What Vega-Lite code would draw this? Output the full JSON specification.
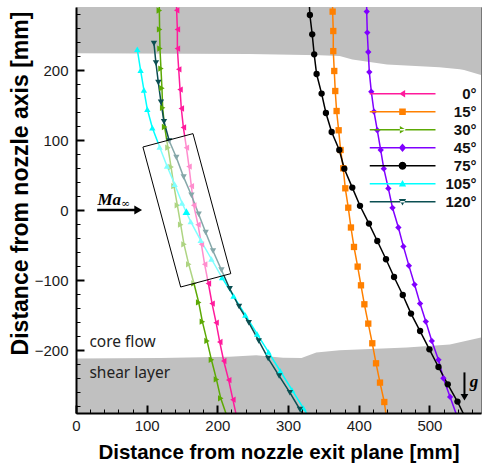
{
  "$schema": "https://vega.github.io/schema/vega-lite/v6.json",
  "width": 405,
  "height": 406,
  "autosize": {"type": "none"},
  "padding": {"left": 76, "top": 7, "right": 1, "bottom": 57},
  "config": {
    "font": "Liberation Sans",
    "view": {"stroke": "#777", "strokeWidth": 1}
  },
  "resolve": {
    "axis": {"x": "independent", "y": "independent"},
    "scale": {"shape": "independent", "color": "independent", "fill": "independent", "stroke": "independent", "size": "independent"}
  },
  "datasets": {
    "shadeTop": [
      {"x": 0, "y": 224}, {"x": 245, "y": 223}, {"x": 345, "y": 221}, {"x": 373, "y": 220},
      {"x": 391, "y": 215}, {"x": 440, "y": 208}, {"x": 514, "y": 204}, {"x": 543, "y": 201},
      {"x": 549, "y": 200}, {"x": 573, "y": 193}
    ],
    "shadeBottom": [
      {"x": 0, "y": -212}, {"x": 120, "y": -211.5}, {"x": 217, "y": -209.5}, {"x": 255, "y": -207.6},
      {"x": 293, "y": -211}, {"x": 319, "y": -211.4}, {"x": 340, "y": -203.7}, {"x": 373, "y": -200.5},
      {"x": 468, "y": -196.6}, {"x": 529, "y": -192}, {"x": 573, "y": -182}
    ],
    "series": [
      {"s": "0°", "i": 0, "x": 141.5, "y": 313}, {"s": "0°", "i": 1, "x": 142.4, "y": 285.3},
      {"s": "0°", "i": 2, "x": 143.4, "y": 258}, {"s": "0°", "i": 3, "x": 143.4, "y": 230.6},
      {"s": "0°", "i": 4, "x": 145.3, "y": 201}, {"s": "0°", "i": 5, "x": 147.2, "y": 172},
      {"s": "0°", "i": 6, "x": 149, "y": 145}, {"s": "0°", "i": 7, "x": 151.9, "y": 118},
      {"s": "0°", "i": 8, "x": 156.2, "y": 89}, {"s": "0°", "i": 9, "x": 159.9, "y": 62},
      {"s": "0°", "i": 10, "x": 163.2, "y": 34}, {"s": "0°", "i": 11, "x": 166.5, "y": 6.7},
      {"s": "0°", "i": 12, "x": 172.6, "y": -21}, {"s": "0°", "i": 13, "x": 177.4, "y": -49},
      {"s": "0°", "i": 14, "x": 182, "y": -77.6}, {"s": "0°", "i": 15, "x": 187.3, "y": -105},
      {"s": "0°", "i": 16, "x": 192.5, "y": -133.7}, {"s": "0°", "i": 17, "x": 198.2, "y": -160.9},
      {"s": "0°", "i": 18, "x": 203.4, "y": -188.6}, {"s": "0°", "i": 19, "x": 209, "y": -215.7},
      {"s": "0°", "i": 20, "x": 216, "y": -243}, {"s": "0°", "i": 21, "x": 222, "y": -271},
      {"s": "0°", "i": 22, "x": 228, "y": -299},

      {"s": "15°", "i": 0, "x": 362.8, "y": 311}, {"s": "15°", "i": 1, "x": 363.1, "y": 283.4},
      {"s": "15°", "i": 2, "x": 364, "y": 255.7}, {"s": "15°", "i": 3, "x": 364, "y": 227},
      {"s": "15°", "i": 4, "x": 365.4, "y": 198.6}, {"s": "15°", "i": 5, "x": 366.8, "y": 170},
      {"s": "15°", "i": 6, "x": 368.7, "y": 141.4}, {"s": "15°", "i": 7, "x": 371.6, "y": 113.9},
      {"s": "15°", "i": 8, "x": 374.4, "y": 85.7}, {"s": "15°", "i": 9, "x": 378.1, "y": 59.6},
      {"s": "15°", "i": 10, "x": 381, "y": 31}, {"s": "15°", "i": 11, "x": 385.2, "y": 3.3},
      {"s": "15°", "i": 12, "x": 389, "y": -25}, {"s": "15°", "i": 13, "x": 393.3, "y": -52.8},
      {"s": "15°", "i": 14, "x": 398.5, "y": -80.9}, {"s": "15°", "i": 15, "x": 403.2, "y": -107.6},
      {"s": "15°", "i": 16, "x": 408, "y": -134.7}, {"s": "15°", "i": 17, "x": 413.5, "y": -162.3},
      {"s": "15°", "i": 18, "x": 419.2, "y": -190.4}, {"s": "15°", "i": 19, "x": 424.5, "y": -219},
      {"s": "15°", "i": 20, "x": 430.1, "y": -246.6}, {"s": "15°", "i": 21, "x": 436.2, "y": -274.3},
      {"s": "15°", "i": 22, "x": 439.5, "y": -299},

      {"s": "30°", "i": 0, "x": 117.5, "y": 313}, {"s": "30°", "i": 1, "x": 117.9, "y": 285},
      {"s": "30°", "i": 2, "x": 118.3, "y": 258}, {"s": "30°", "i": 3, "x": 118.8, "y": 230.6},
      {"s": "30°", "i": 4, "x": 120.2, "y": 202}, {"s": "30°", "i": 5, "x": 121.6, "y": 174},
      {"s": "30°", "i": 6, "x": 122.6, "y": 146}, {"s": "30°", "i": 7, "x": 125.4, "y": 118.6},
      {"s": "30°", "i": 8, "x": 130.1, "y": 89}, {"s": "30°", "i": 9, "x": 134.5, "y": 61.4},
      {"s": "30°", "i": 10, "x": 138.6, "y": 34}, {"s": "30°", "i": 11, "x": 143.4, "y": 6.7},
      {"s": "30°", "i": 12, "x": 148.1, "y": -21}, {"s": "30°", "i": 13, "x": 152.8, "y": -49},
      {"s": "30°", "i": 14, "x": 159.5, "y": -77.6}, {"s": "30°", "i": 15, "x": 166.8, "y": -104.7},
      {"s": "30°", "i": 16, "x": 173.6, "y": -132}, {"s": "30°", "i": 17, "x": 178.8, "y": -159.5},
      {"s": "30°", "i": 18, "x": 185.4, "y": -187}, {"s": "30°", "i": 19, "x": 191.6, "y": -214},
      {"s": "30°", "i": 20, "x": 198.7, "y": -242}, {"s": "30°", "i": 21, "x": 204.8, "y": -269},
      {"s": "30°", "i": 22, "x": 215, "y": -299},

      {"s": "45°", "i": 0, "x": 411, "y": 311}, {"s": "45°", "i": 1, "x": 411.3, "y": 283.4},
      {"s": "45°", "i": 2, "x": 412.1, "y": 253.4}, {"s": "45°", "i": 3, "x": 413.5, "y": 225.7},
      {"s": "45°", "i": 4, "x": 415, "y": 197}, {"s": "45°", "i": 5, "x": 417.8, "y": 169},
      {"s": "45°", "i": 6, "x": 421.6, "y": 140.6}, {"s": "45°", "i": 7, "x": 426.3, "y": 113.9},
      {"s": "45°", "i": 8, "x": 431.1, "y": 85.7}, {"s": "45°", "i": 9, "x": 435.5, "y": 59.1},
      {"s": "45°", "i": 10, "x": 441.9, "y": 30.8}, {"s": "45°", "i": 11, "x": 447.8, "y": 3.1},
      {"s": "45°", "i": 12, "x": 456.1, "y": -25}, {"s": "45°", "i": 13, "x": 463.2, "y": -52},
      {"s": "45°", "i": 14, "x": 471, "y": -79.5}, {"s": "45°", "i": 15, "x": 479, "y": -106.5},
      {"s": "45°", "i": 16, "x": 486.8, "y": -133.7}, {"s": "45°", "i": 17, "x": 494.9, "y": -159.4},
      {"s": "45°", "i": 18, "x": 503.4, "y": -187}, {"s": "45°", "i": 19, "x": 512.8, "y": -214},
      {"s": "45°", "i": 20, "x": 519.8, "y": -240.4}, {"s": "45°", "i": 21, "x": 529.3, "y": -267},
      {"s": "45°", "i": 22, "x": 540.6, "y": -299},

      {"s": "75°", "i": 0, "x": 329.5, "y": 306}, {"s": "75°", "i": 1, "x": 330.9, "y": 278.6},
      {"s": "75°", "i": 2, "x": 334.2, "y": 251}, {"s": "75°", "i": 3, "x": 337, "y": 222.4},
      {"s": "75°", "i": 4, "x": 340.4, "y": 194.3}, {"s": "75°", "i": 5, "x": 347.5, "y": 166.3},
      {"s": "75°", "i": 6, "x": 353.6, "y": 138.6}, {"s": "75°", "i": 7, "x": 361.7, "y": 111.4},
      {"s": "75°", "i": 8, "x": 372.5, "y": 85.7}, {"s": "75°", "i": 9, "x": 379.6, "y": 59},
      {"s": "75°", "i": 10, "x": 390.9, "y": 32}, {"s": "75°", "i": 11, "x": 401.8, "y": 6},
      {"s": "75°", "i": 12, "x": 414.5, "y": -19.4}, {"s": "75°", "i": 13, "x": 426.3, "y": -44.3},
      {"s": "75°", "i": 14, "x": 438.6, "y": -70.4}, {"s": "75°", "i": 15, "x": 450, "y": -95.7},
      {"s": "75°", "i": 16, "x": 462.3, "y": -121.4}, {"s": "75°", "i": 17, "x": 474, "y": -148},
      {"s": "75°", "i": 18, "x": 486.8, "y": -172.9}, {"s": "75°", "i": 19, "x": 500, "y": -199},
      {"s": "75°", "i": 20, "x": 512.8, "y": -224.3}, {"s": "75°", "i": 21, "x": 526, "y": -249},
      {"s": "75°", "i": 22, "x": 539.7, "y": -273.7}, {"s": "75°", "i": 23, "x": 552, "y": -299},

      {"s": "105°", "i": 0, "x": 86.7, "y": 229.6}, {"s": "105°", "i": 1, "x": 91.4, "y": 199.6},
      {"s": "105°", "i": 2, "x": 96.1, "y": 171.4}, {"s": "105°", "i": 3, "x": 100.9, "y": 143.9},
      {"s": "105°", "i": 4, "x": 108, "y": 117.5}, {"s": "105°", "i": 5, "x": 118.3, "y": 90},
      {"s": "105°", "i": 6, "x": 128.7, "y": 62.9}, {"s": "105°", "i": 7, "x": 139.6, "y": 36.7},
      {"s": "105°", "i": 8, "x": 150, "y": 10}, {"s": "105°", "i": 9, "x": 162.3, "y": -16.6},
      {"s": "105°", "i": 10, "x": 176.4, "y": -43.3}, {"s": "105°", "i": 11, "x": 191.6, "y": -70},
      {"s": "105°", "i": 12, "x": 206.6, "y": -96.6}, {"s": "105°", "i": 13, "x": 222.9, "y": -123},
      {"s": "105°", "i": 14, "x": 239.5, "y": -150}, {"s": "105°", "i": 15, "x": 256.2, "y": -177},
      {"s": "105°", "i": 16, "x": 272.3, "y": -203}, {"s": "105°", "i": 17, "x": 289, "y": -230},
      {"s": "105°", "i": 18, "x": 305.6, "y": -257}, {"s": "105°", "i": 19, "x": 321.7, "y": -283},
      {"s": "105°", "i": 20, "x": 331.6, "y": -299},

      {"s": "120°", "i": 0, "x": 110.3, "y": 238}, {"s": "120°", "i": 1, "x": 113.1, "y": 210},
      {"s": "120°", "i": 2, "x": 116.5, "y": 182}, {"s": "120°", "i": 3, "x": 120.2, "y": 154},
      {"s": "120°", "i": 4, "x": 124.5, "y": 126}, {"s": "120°", "i": 5, "x": 132, "y": 98.6},
      {"s": "120°", "i": 6, "x": 142, "y": 74.9}, {"s": "120°", "i": 7, "x": 152.3, "y": 47},
      {"s": "120°", "i": 8, "x": 163.3, "y": 21}, {"s": "120°", "i": 9, "x": 173.6, "y": -6},
      {"s": "120°", "i": 10, "x": 183.5, "y": -32}, {"s": "120°", "i": 11, "x": 193.9, "y": -58.5},
      {"s": "120°", "i": 12, "x": 205.8, "y": -85.7}, {"s": "120°", "i": 13, "x": 217.5, "y": -112.5},
      {"s": "120°", "i": 14, "x": 230.7, "y": -138}, {"s": "120°", "i": 15, "x": 244.5, "y": -161},
      {"s": "120°", "i": 16, "x": 258.6, "y": -187}, {"s": "120°", "i": 17, "x": 271.9, "y": -212},
      {"s": "120°", "i": 18, "x": 287.4, "y": -237}, {"s": "120°", "i": 19, "x": 302.6, "y": -261},
      {"s": "120°", "i": 20, "x": 316.8, "y": -285}, {"s": "120°", "i": 21, "x": 325, "y": -299}
    ],
    "box": [
      {"k": 0, "x": 94.7, "y": 90}, {"k": 1, "x": 165.5, "y": 109.1},
      {"k": 2, "x": 219, "y": -90.9}, {"k": 3, "x": 148.1, "y": -110},
      {"k": 4, "x": 94.7, "y": 90}
    ],
    "highlight": [{"s": "105°", "x": 156.2, "y": -2.3}]
  },
  "layer": [
    {
      "data": {"name": "shadeTop"},
      "mark": {"type": "area", "color": "#c0c0c0", "clip": true},
      "encoding": {
        "x": {
          "field": "x", "type": "quantitative",
          "scale": {"domain": [0, 573], "nice": false, "zero": false},
          "axis": {
            "orient": "bottom",
            "values": [0, 100, 200, 300, 400, 500],
            "tickSize": -8, "tickWidth": 2,
            "tickColor": "black", "domainColor": "black", "domainWidth": 2,
            "labelFontSize": 15, "labelColor": "#1a1a1a", "labelPadding": 13,
            "labelOverlap": false, "labelFlush": false,
            "title": "Distance from nozzle exit plane [mm]",
            "titleFontSize": 20.5, "titleFontWeight": "bold", "titleColor": "black", "titlePadding": 9,
            "grid": false, "zindex": 1
          }
        },
        "y": {
          "field": "y", "type": "quantitative",
          "scale": {"domain": [-290, 290], "nice": false, "zero": false},
          "axis": {
            "orient": "left",
            "values": [-200, -100, 0, 100, 200],
            "tickSize": -8, "tickWidth": 2,
            "tickColor": "black", "domainColor": "black", "domainWidth": 2,
            "labelFontSize": 15, "labelColor": "#1a1a1a", "labelPadding": 16,
            "labelOverlap": false, "labelFlush": false,
            "title": "Distance from nozzle axis [mm]",
            "titleFontSize": 23, "titleFontWeight": "bold", "titleColor": "black",
            "titleX": -56, "titleY": 176, "titleBaseline": "middle", "titleAngle": -90,
            "grid": false, "zindex": 1
          }
        },
        "y2": {"datum": 290}
      }
    },
    {
      "data": {"name": "shadeBottom"},
      "mark": {"type": "area", "color": "#c0c0c0", "clip": true},
      "encoding": {
        "x": {
          "field": "x", "type": "quantitative",
          "axis": {
            "orient": "bottom",
            "values": [0,20,40,60,80,100,120,140,160,180,200,220,240,260,280,300,320,340,360,380,400,420,440,460,480,500,520,540,560],
            "tickSize": -4, "tickWidth": 1, "tickColor": "black",
            "domain": false, "labels": false, "title": null, "grid": false, "zindex": 1
          }
        },
        "y": {
          "field": "y", "type": "quantitative",
          "axis": {
            "orient": "left",
            "values": [-280,-260,-240,-220,-200,-180,-160,-140,-120,-100,-80,-60,-40,-20,0,20,40,60,80,100,120,140,160,180,200,220,240,260,280],
            "tickSize": -4, "tickWidth": 1, "tickColor": "black",
            "domain": false, "labels": false, "title": null, "grid": false, "zindex": 1
          }
        },
        "y2": {"datum": -290}
      }
    },
    {
      "data": {"name": "series"},
      "mark": {"type": "line", "strokeWidth": 1.5, "clip": true},
      "encoding": {
        "x": {"field": "x", "type": "quantitative", "axis": null},
        "y": {"field": "y", "type": "quantitative", "axis": null},
        "order": {"field": "i", "type": "quantitative"},
        "stroke": {
          "field": "s", "type": "nominal",
          "scale": {
            "domain": ["0°", "15°", "30°", "45°", "75°", "120°", "105°"],
            "range": ["#ff1a9c", "#ff8000", "#5ca904", "#8000ff", "#000000", "#0b4f52", "#00ffff"]
          },
          "legend": null
        }
      }
    },
    {
      "data": {"name": "series"},
      "mark": {"type": "point", "filled": true, "opacity": 1, "clip": true},
      "encoding": {
        "x": {"field": "x", "type": "quantitative", "axis": null},
        "y": {"field": "y", "type": "quantitative", "axis": null},
        "fill": {
          "field": "s", "type": "nominal",
          "scale": {
            "domain": ["120°", "105°", "75°", "45°", "30°", "15°", "0°"],
            "range": ["#0b4f52", "#00ffff", "#000000", "#8000ff", "#5ca904", "#ff8000", "#ff1a9c"]
          },
          "legend": null
        },
        "shape": {
          "field": "s", "type": "nominal",
          "scale": {
            "domain": ["120°", "105°", "75°", "45°", "30°", "15°", "0°"],
            "range": ["triangle-down", "triangle-up", "circle", "diamond", "triangle-right", "square", "triangle-left"]
          },
          "legend": null
        },
        "size": {
          "field": "s", "type": "nominal",
          "scale": {
            "domain": ["120°", "105°", "75°", "45°", "30°", "15°", "0°"],
            "range": [40, 40, 52, 45, 40, 36, 40]
          },
          "legend": null
        }
      }
    },
    {
      "data": {"name": "series"},
      "mark": {"type": "point", "filled": true, "opacity": 0, "clip": true},
      "encoding": {
        "x": {"field": "x", "type": "quantitative", "axis": null},
        "y": {"field": "y", "type": "quantitative", "axis": null},
        "color": {
          "field": "s", "type": "nominal",
          "scale": {
            "domain": ["0°", "15°", "30°", "45°", "75°", "105°", "120°"],
            "range": ["#ff1a9c", "#ff8000", "#5ca904", "#8000ff", "#000000", "#00ffff", "#0b4f52"]
          },
          "legend": {
            "title": null, "orient": "none", "legendX": 293.5, "legendY": 78,
            "padding": 0, "clipHeight": 17.5, "rowPadding": 0,
            "symbolSize": 4356, "symbolOffset": 0, "symbolStrokeWidth": 0, "symbolOpacity": 1,
            "labelOffset": 41, "labelAlign": "right", "labelFontSize": 15, "labelFontWeight": "bold",
            "labelColor": "#111", "labelFont": "Liberation Sans"
          }
        },
        "shape": {
          "field": "s", "type": "nominal",
          "scale": {
            "domain": ["0°", "15°", "30°", "45°", "75°", "105°", "120°"],
            "range": [
              "M-1,-0.023H1V0.023H-1ZM-0.1,0L0.08,-0.11L0.08,0.11Z",
              "M-1,-0.023H1V0.023H-1ZM-0.1,-0.1H0.1V0.1H-0.1Z",
              "M-1,-0.023H1V0.023H-1ZM0.1,0L-0.08,-0.11L-0.08,0.11Z",
              "M-1,-0.023H1V0.023H-1ZM0,-0.13L0.11,0L0,0.13L-0.11,0Z",
              "M-1,-0.023H1V0.023H-1ZM0.12,0L0.104,0.06L0.06,0.104L0,0.12L-0.06,0.104L-0.104,0.06L-0.12,0L-0.104,-0.06L-0.06,-0.104L0,-0.12L0.06,-0.104L0.104,-0.06Z",
              "M-1,-0.023H1V0.023H-1ZM0,-0.11L0.11,0.08L-0.11,0.08Z",
              "M-1,-0.023H1V0.023H-1ZM0,0.11L0.11,-0.08L-0.11,-0.08Z"
            ]
          },
          "legend": {
            "title": null, "orient": "none", "legendX": 293.5, "legendY": 78,
            "padding": 0, "clipHeight": 17.5, "rowPadding": 0,
            "symbolSize": 4356, "symbolOffset": 0, "symbolStrokeWidth": 0, "symbolOpacity": 1,
            "labelOffset": 41, "labelAlign": "right", "labelFontSize": 15, "labelFontWeight": "bold",
            "labelColor": "#111", "labelFont": "Liberation Sans"
          }
        }
      }
    },
    {
      "data": {"name": "box"},
      "mark": {"type": "line", "fill": "white", "fillOpacity": 0.5, "stroke": "black", "strokeWidth": 1, "clip": true},
      "encoding": {
        "x": {"field": "x", "type": "quantitative", "axis": null},
        "y": {"field": "y", "type": "quantitative", "axis": null},
        "order": {"field": "k", "type": "quantitative"}
      }
    },
    {
      "data": {"name": "highlight"},
      "mark": {"type": "point", "shape": "triangle-up", "filled": true, "color": "#00ffff", "opacity": 1, "size": 60},
      "encoding": {
        "x": {"field": "x", "type": "quantitative", "axis": null},
        "y": {"field": "y", "type": "quantitative", "axis": null}
      }
    },
    {
      "data": {"values": [{}]},
      "mark": {"type": "rule", "color": "black", "strokeWidth": 2.5},
      "encoding": {"x": {"datum": 30, "axis": null}, "x2": {"datum": 86}, "y": {"datum": 0, "axis": null}}
    },
    {
      "data": {"values": [{}]},
      "mark": {"type": "point", "shape": "triangle-right", "filled": true, "color": "black", "opacity": 1, "size": 80},
      "encoding": {"x": {"datum": 88, "axis": null}, "y": {"datum": 0, "axis": null}}
    },
    {
      "data": {"values": [{}]},
      "mark": {"type": "text", "text": "Ma", "font": "Liberation Serif", "fontStyle": "italic", "fontWeight": "bold", "fontSize": 17, "align": "center", "baseline": "middle", "color": "black"},
      "encoding": {"x": {"datum": 47, "axis": null}, "y": {"datum": 14, "axis": null}}
    },
    {
      "data": {"values": [{}]},
      "mark": {"type": "text", "text": "∞", "font": "DejaVu Serif", "fontSize": 11, "align": "center", "baseline": "middle", "color": "black"},
      "encoding": {"x": {"datum": 70, "axis": null}, "y": {"datum": 8, "axis": null}}
    },
    {
      "data": {"values": [{}]},
      "mark": {"type": "text", "text": "core flow", "font": "Noto Sans", "fontSize": 15.5, "align": "left", "baseline": "middle", "color": "#222"},
      "encoding": {"x": {"datum": 19, "axis": null}, "y": {"datum": -189, "axis": null}}
    },
    {
      "data": {"values": [{}]},
      "mark": {"type": "text", "text": "shear layer", "font": "Noto Sans", "fontSize": 15.5, "align": "left", "baseline": "middle", "color": "#222"},
      "encoding": {"x": {"datum": 19, "axis": null}, "y": {"datum": -233, "axis": null}}
    },
    {
      "data": {"values": [{}]},
      "mark": {"type": "rule", "color": "black", "strokeWidth": 2},
      "encoding": {"x": {"datum": 549.6, "axis": null}, "y": {"datum": -232, "axis": null}, "y2": {"datum": -264}}
    },
    {
      "data": {"values": [{}]},
      "mark": {"type": "point", "shape": "triangle-down", "filled": true, "color": "black", "opacity": 1, "size": 60},
      "encoding": {"x": {"datum": 549.6, "axis": null}, "y": {"datum": -267.5, "axis": null}}
    },
    {
      "data": {"values": [{}]},
      "mark": {"type": "text", "text": "g", "font": "Liberation Serif", "fontStyle": "italic", "fontWeight": "bold", "fontSize": 17, "align": "center", "baseline": "middle", "color": "black"},
      "encoding": {"x": {"datum": 563, "axis": null}, "y": {"datum": -246, "axis": null}}
    }
  ]
}
